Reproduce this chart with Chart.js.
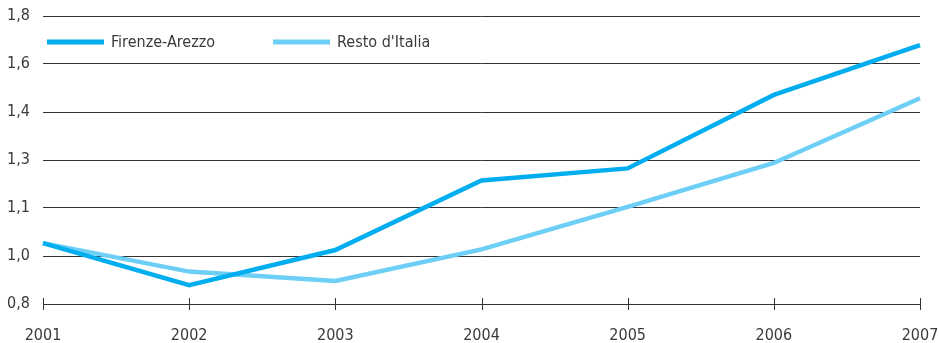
<!DOCTYPE html>
<html>
<head>
<meta charset="utf-8">
<script src="https://cdn.jsdelivr.net/npm/chart.js@4/dist/chart.umd.min.js"></script>
<style>
  html, body { margin: 0; padding: 0; background: #ffffff; }
  #wrap { width: 939px; height: 343px; }
</style>
</head>
<body>
<div id="wrap"><canvas id="chart" width="939" height="343"></canvas></div>
<script>
// Years on the horizontal axis
const years = ['2001', '2002', '2003', '2004', '2005', '2006', '2007'];

// Index values per area
const firenzeArezzo = [1.003, 0.863, 0.980, 1.212, 1.252, 1.497, 1.663];
const restoItalia   = [1.003, 0.908, 0.877, 0.982, 1.124, 1.270, 1.486];

const seriesNames  = ['Firenze-Arezzo', "Resto d'Italia"];
const seriesColors = ['#00aeef', '#6dcff6'];

// Value axis: 0,8 to 1,8 in six steps
const yMin = 0.8;
const yMax = 1.76;
const yStep = 0.16;

const FONT = "'DejaVu Sans Condensed', 'Liberation Sans Narrow', sans-serif";
const FONT_SIZE = 16;
const TEXT = '#3a3a3a';
const LINE = '#333333';

// Cross-shaped tick marks on the category axis
const crossTicks = {
  id: 'crossTicks',
  afterDraw(chart) {
    const x = chart.scales.x;
    const ctx = chart.ctx;
    const yb = chart.chartArea.bottom;
    ctx.save();
    ctx.strokeStyle = LINE;
    ctx.lineWidth = 1;
    years.forEach((_, i) => {
      const px = Math.round(x.getPixelForValue(i)) + 0.5;
      ctx.beginPath();
      ctx.moveTo(px, yb - 6);
      ctx.lineTo(px, yb + 6);
      ctx.stroke();
    });
    ctx.restore();
  }
};

// Legend drawn inside the plot, on a single row
const innerLegend = {
  id: 'innerLegend',
  afterDraw(chart) {
    const ctx = chart.ctx;
    const left = chart.chartArea.left;
    const offsets = [4, 230];
    const y = 42;
    ctx.save();
    ctx.font = FONT_SIZE + 'px ' + FONT;
    ctx.textBaseline = 'middle';
    chart.data.datasets.forEach((ds, i) => {
      const x0 = left + offsets[i];
      ctx.strokeStyle = ds.borderColor;
      ctx.lineWidth = 5;
      ctx.lineCap = 'butt';
      ctx.beginPath();
      ctx.moveTo(x0, y);
      ctx.lineTo(x0 + 57, y);
      ctx.stroke();
      ctx.fillStyle = TEXT;
      ctx.fillText(ds.label, x0 + 64, y + 1);
    });
    ctx.restore();
  }
};

new Chart(document.getElementById('chart'), {
  type: 'line',
  data: {
    labels: years,
    datasets: [
      {
        label: seriesNames[0],
        data: firenzeArezzo,
        borderColor: seriesColors[0],
        backgroundColor: seriesColors[0],
        borderWidth: 4.5,
        borderJoinStyle: 'miter',
        pointRadius: 0,
        tension: 0
      },
      {
        label: seriesNames[1],
        data: restoItalia,
        borderColor: seriesColors[1],
        backgroundColor: seriesColors[1],
        borderWidth: 4.5,
        borderJoinStyle: 'miter',
        pointRadius: 0,
        tension: 0
      }
    ]
  },
  options: {
    responsive: false,
    animation: false,
    devicePixelRatio: 1,
    layout: { padding: { top: 16, right: 19, bottom: 0, left: 0 } },
    plugins: {
      legend: { display: false },
      tooltip: { enabled: false }
    },
    scales: {
      x: {
        offset: false,
        grid: { display: false, drawTicks: false },
        border: { display: true, color: LINE, width: 1 },
        ticks: {
          color: TEXT,
          font: { family: FONT, size: FONT_SIZE },
          padding: 22,
          maxRotation: 0,
          autoSkip: false
        },
        afterFit(scale) {
          scale.height = 39;
          scale.paddingLeft = 0;
          scale.paddingRight = 0;
        }
      },
      y: {
        min: yMin,
        max: yMax,
        grid: { color: LINE, lineWidth: 1, drawTicks: false },
        border: { display: false },
        ticks: {
          stepSize: yStep,
          color: TEXT,
          font: { family: FONT, size: FONT_SIZE },
          padding: 13,
          callback: (v) => Number(v).toFixed(1).replace('.', ',')
        },
        afterFit(scale) {
          scale.width = 43;
          scale.paddingTop = 0;
          scale.paddingBottom = 0;
        }
      }
    }
  },
  plugins: [crossTicks, innerLegend]
});
</script>
</body>
</html>
